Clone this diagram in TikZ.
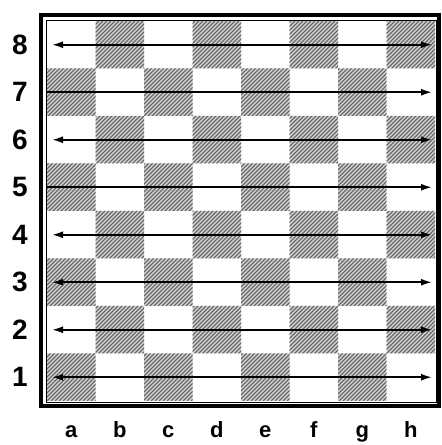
\documentclass[tikz,border=0pt]{standalone}
\usepackage{fontspec}
\setmainfont{Liberation Sans}
\usetikzlibrary{arrows.meta}
\begin{document}
\begin{tikzpicture}[x=1pt,y=1pt,
  darkbg/.style={fill=gray!30},
  hatchline/.style={draw=black!60, line width=1.3pt},
  rankboth/.style={line width=1.8pt, {Latex[length=11pt,width=7pt]}-{Latex[length=11pt,width=7pt]}},
  rankright/.style={line width=1.8pt, -{Latex[length=11pt,width=7pt]}},
  ranklabel/.style={font=\fontsize{28}{28}\selectfont\bfseries, anchor=center, inner sep=0pt},
  filelabel/.style={font=\fontsize{22}{22}\selectfont\bfseries, anchor=base, inner sep=0pt},
  outerframe/.style={draw, line width=3.5pt},
  innerframe/.style={draw, line width=0.8pt}]
\useasboundingbox (0,0) rectangle (442,445);
\fill[white] (0,0) rectangle (442,445);
% dark squares with hatching
\begin{scope}
  \clip
  \foreach \c in {0,...,7}{
    \foreach \r in {1,...,8}{
      \ifodd\numexpr\c+\r\relax
        ({47+48.5*\c},{44+47.5*(\r-1)}) rectangle ({47+48.5*(\c+1)},{44+47.5*\r})
      \fi
    }
  };
  \fill[darkbg] (47,44) rectangle (435,424);
  \foreach \k in {0,...,200}{
    \path[hatchline] ({47-380+4*\k},44) -- ({47+4*\k},424);
  }
\end{scope}
% frame
\path[outerframe] (41,39) rectangle (439,430);
\path[innerframe] (46,43) rectangle (436,425);
% rank labels and arrow end points
\foreach \r in {1,...,8}{
  \node[ranklabel] (rank\r) at (20,{44+47.5*(\r-1)+23.75}) {\r};
  \coordinate (L\r) at (52,{44+47.5*(\r-1)+23.75});
  \coordinate (M\r) at (47,{44+47.5*(\r-1)+23.75});
  \coordinate (R\r) at (432,{44+47.5*(\r-1)+23.75});
}
% file labels
\foreach \f [count=\i from 0] in {a,b,c,d,e,f,g,h}{
  \node[filelabel] (file\f) at ({47+48.5*\i+24.25},7) {\f};
}
% arrows
\draw[rankboth] (L8) -- (R8);
\draw[rankright] (M7) -- (R7);
\draw[rankboth] (L6) -- (R6);
\draw[rankright] (M5) -- (R5);
\draw[rankboth] (L4) -- (R4);
\draw[rankboth] (L3) -- (R3);
\draw[rankboth] (L2) -- (R2);
\draw[rankboth] (L1) -- (R1);
\end{tikzpicture}
\end{document}
